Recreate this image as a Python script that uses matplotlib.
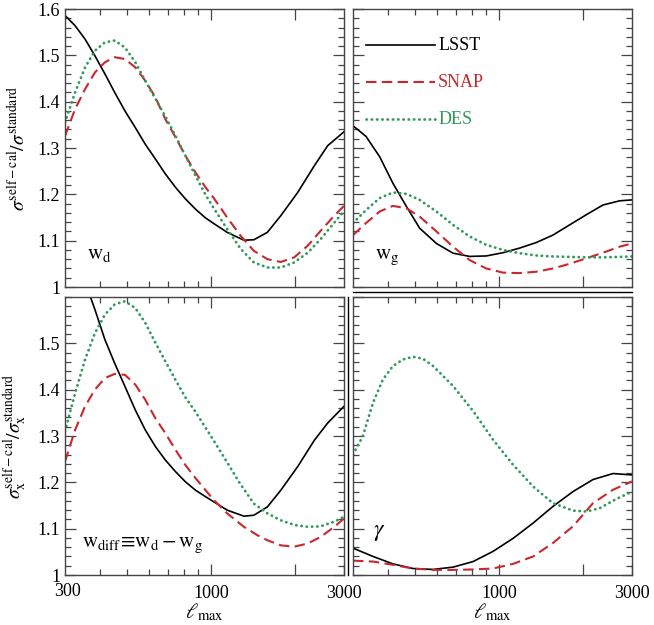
import matplotlib
matplotlib.use("Agg")
import matplotlib.pyplot as plt
from matplotlib.lines import Line2D
from matplotlib.ticker import FixedLocator, FuncFormatter, NullFormatter

plt.rcParams['font.family'] = ['Liberation Serif', 'DejaVu Serif']
plt.rcParams['mathtext.fontset'] = 'stix'

RED = '#c8282d'
GREEN = '#2f9a5b'

# ---- data (ell_max, ratio) ----
# top left: w_d
wd_lsst_l = [300, 326, 354, 384, 417, 452, 492, 536, 582, 633, 687, 747, 811, 881, 957, 1024, 1144, 1313, 1426, 1594, 1781, 2047, 2350, 2622, 3000]
wd_lsst_y = [1.586, 1.564, 1.535, 1.499, 1.460, 1.420, 1.380, 1.344, 1.308, 1.276, 1.244, 1.215, 1.190, 1.168, 1.149, 1.137, 1.118, 1.101, 1.102, 1.118, 1.154, 1.204, 1.262, 1.305, 1.335]
wd_snap_l = [300, 326, 354, 384, 417, 452, 492, 536, 582, 633, 687, 747, 811, 881, 957, 1024, 1144, 1280, 1426, 1594, 1781, 1989, 2223, 2472, 2770, 3000]
wd_snap_y = [1.326, 1.384, 1.427, 1.463, 1.485, 1.496, 1.492, 1.474, 1.445, 1.409, 1.362, 1.323, 1.283, 1.247, 1.215, 1.192, 1.150, 1.110, 1.078, 1.060, 1.054, 1.064, 1.089, 1.121, 1.154, 1.175]
wd_des_l = [300, 326, 354, 384, 417, 452, 492, 536, 582, 633, 687, 747, 811, 881, 957, 1024, 1144, 1280, 1426, 1594, 1781, 1989, 2223, 2472, 2770, 3000]
wd_des_y = [1.355, 1.420, 1.474, 1.510, 1.528, 1.532, 1.517, 1.485, 1.445, 1.406, 1.368, 1.326, 1.283, 1.240, 1.199, 1.170, 1.125, 1.082, 1.053, 1.042, 1.042, 1.053, 1.074, 1.103, 1.139, 1.164]

# top right: w_g
wg_l = [300, 334, 374, 417, 466, 520, 597, 685, 786, 901, 1034, 1187, 1362, 1562, 1792, 2058, 2361, 2709, 3000]
wg_lsst_y = [1.348, 1.325, 1.281, 1.224, 1.174, 1.127, 1.094, 1.073, 1.066, 1.067, 1.074, 1.084, 1.096, 1.112, 1.134, 1.156, 1.177, 1.186, 1.188]
wg_snap_y = [1.112, 1.138, 1.163, 1.175, 1.170, 1.152, 1.120, 1.087, 1.058, 1.040, 1.031, 1.030, 1.033, 1.040, 1.050, 1.062, 1.074, 1.087, 1.094]
wg_des_y = [1.138, 1.166, 1.192, 1.204, 1.201, 1.188, 1.163, 1.134, 1.109, 1.091, 1.080, 1.073, 1.068, 1.066, 1.065, 1.064, 1.064, 1.065, 1.066]

# bottom left: w_diff
wx_lsst_l = [369, 384, 417, 452, 492, 536, 582, 633, 687, 747, 811, 881, 957, 1024, 1144, 1313, 1426, 1594, 1781, 2047, 2350, 2622, 3000]
wx_lsst_y = [1.602, 1.573, 1.508, 1.457, 1.407, 1.356, 1.313, 1.277, 1.248, 1.223, 1.201, 1.183, 1.169, 1.158, 1.140, 1.127, 1.129, 1.147, 1.183, 1.234, 1.291, 1.328, 1.364]
wx_snap_l = [300, 326, 354, 384, 417, 452, 492, 536, 582, 633, 687, 747, 811, 881, 957, 1024, 1144, 1313, 1466, 1594, 1781, 1989, 2223, 2472, 2770, 3000]
wx_snap_y = [1.245, 1.313, 1.364, 1.400, 1.425, 1.434, 1.432, 1.411, 1.378, 1.338, 1.306, 1.270, 1.237, 1.209, 1.183, 1.162, 1.133, 1.104, 1.086, 1.075, 1.064, 1.061, 1.068, 1.082, 1.104, 1.122]
wx_des_l = [300, 326, 354, 384, 417, 452, 492, 536, 582, 633, 687, 747, 811, 881, 957, 1024, 1144, 1270, 1426, 1594, 1781, 1989, 2223, 2472, 2770, 3000]
wx_des_y = [1.310, 1.392, 1.465, 1.522, 1.562, 1.584, 1.591, 1.576, 1.544, 1.501, 1.461, 1.421, 1.383, 1.352, 1.318, 1.290, 1.243, 1.198, 1.154, 1.133, 1.118, 1.108, 1.104, 1.105, 1.115, 1.126]

# bottom right: gamma
ga_l = [300, 354, 417, 492, 581, 685, 808, 953, 1124, 1326, 1562, 1843, 2174, 2565, 3000]
ga_lsst_y = [1.058, 1.040, 1.024, 1.014, 1.012, 1.017, 1.029, 1.051, 1.079, 1.112, 1.148, 1.180, 1.206, 1.219, 1.216]
ga_snap_y = [1.031, 1.029, 1.022, 1.014, 1.011, 1.011, 1.012, 1.014, 1.024, 1.040, 1.069, 1.105, 1.155, 1.184, 1.202]
ga_des_l = [300, 325, 354, 384, 417, 453, 492, 534, 581, 685, 808, 953, 1124, 1326, 1562, 1843, 2058, 2296, 2635, 3000]
ga_des_y = [1.260, 1.299, 1.372, 1.422, 1.451, 1.465, 1.471, 1.467, 1.451, 1.408, 1.354, 1.292, 1.238, 1.191, 1.155, 1.139, 1.137, 1.144, 1.164, 1.180]

panels = [
    (wd_lsst_l, wd_lsst_y, wd_snap_l, wd_snap_y, wd_des_l, wd_des_y),
    (wg_l, wg_lsst_y, wg_l, wg_snap_y, wg_l, wg_des_y),
    (wx_lsst_l, wx_lsst_y, wx_snap_l, wx_snap_y, wx_des_l, wx_des_y),
    (ga_l, ga_lsst_y, ga_l, ga_snap_y, ga_des_l, ga_des_y),
]

solid = dict(color='black', lw=1.2)
dashed = dict(color=RED, lw=1.5, dashes=(5, 2.6))
dotted = dict(color=GREEN, lw=2.0, linestyle=(0, (0.1, 1.8)), dash_capstyle='round')

fig = plt.figure(figsize=(6.54, 6.25), dpi=100)
W, H = 654, 625
boxes = [(65, 9), (353, 9), (65, 297), (353, 297)]
axes = []
for (x0, y0) in boxes:
    ax = fig.add_axes([x0 / W, (H - y0 - 278) / H, 279 / W, 278 / H])
    axes.append(ax)

yfmt = FuncFormatter(lambda v, p: '1' if abs(v - 1) < 1e-6 else '%.1f' % v)

for i, ax in enumerate(axes):
    l1, y1, l2, y2, l3, y3 = panels[i]
    ax.plot(l1, y1, **solid)
    ax.plot(l2, y2, **dashed)
    ax.plot(l3, y3, **dotted)
    ax.set_xscale('log')
    ax.set_xlim(300, 3000)
    ax.set_ylim(1.0, 1.6)
    ax.xaxis.set_major_locator(FixedLocator([1000, 2000]))
    ax.xaxis.set_minor_locator(FixedLocator([400, 500, 600, 700, 800, 900]))
    ax.xaxis.set_minor_formatter(NullFormatter())
    ax.xaxis.set_major_formatter(NullFormatter())
    ax.yaxis.set_major_locator(FixedLocator([1.0, 1.1, 1.2, 1.3, 1.4, 1.5, 1.6]))
    ax.yaxis.set_minor_locator(FixedLocator([1 + 0.02 * k for k in range(31)]))
    ax.tick_params(which='both', direction='in', top=True, right=True, labelsize=13, color='#444444')
    ax.tick_params(which='major', length=8, width=0.9)
    ax.tick_params(which='minor', length=4, width=0.9)
    for s in ax.spines.values():
        s.set_linewidth(1.0)
        s.set_color('#444444')
    if i in (0, 2):
        ax.yaxis.set_major_formatter(yfmt)
    else:
        ax.yaxis.set_major_formatter(NullFormatter())
    if i == 2:
        ax.yaxis.set_major_locator(FixedLocator([1.0, 1.1, 1.2, 1.3, 1.4, 1.5]))
    if i >= 2:
        ax.xaxis.set_major_formatter(FuncFormatter(
            lambda v, p: '%d' % round(v) if round(v) in (1000, 3000) else ''))
        ax.xaxis.set_minor_formatter(NullFormatter())
        ax.xaxis.set_major_locator(FixedLocator([1000, 2000, 3000]))
        ax.tick_params(axis='x', which='major', pad=7)
        ax.set_xlabel(r'$\ell_{\rm max}$', fontsize=15, labelpad=0)

# the left bottom panel also shows 300 at its left end
axes[2].text(0.01, -0.03, '300', transform=axes[2].transAxes, ha='center', va='top', fontsize=13)

axes[0].set_ylabel(r'$\sigma^{\rm self-cal}/\sigma^{\rm standard}$', fontsize=14, labelpad=6)
axes[2].set_ylabel(r'$\sigma_{\rm x}^{\rm self-cal}/\sigma_{\rm x}^{\rm standard}$', fontsize=14, labelpad=6)

axes[0].text(0.08, 0.1, r'$\rm w_{d}$', transform=axes[0].transAxes, fontsize=15)
axes[1].text(0.08, 0.1, r'$\rm w_{g}$', transform=axes[1].transAxes, fontsize=15)
axes[2].text(0.06, 0.1, r'$\rm w_{diff}\!\equiv\! w_{d}-w_{g}$', transform=axes[2].transAxes, fontsize=15)
axes[3].text(0.07, 0.14, r'$\gamma$', transform=axes[3].transAxes, fontsize=17)

# legend in top right panel
leg = axes[1]
for k, (lab, style) in enumerate([('LSST', solid), ('SNAP', dashed), ('DES', dotted)]):
    yy = 0.87 - 0.133 * k
    leg.add_line(Line2D([0.045, 0.295], [yy, yy], transform=leg.transAxes, **style))
    leg.text(0.305, yy, lab, color=style['color'], fontsize=13, va='center', transform=leg.transAxes)

# extra frame lines between panels, as in the reference
fig.add_artist(Line2D([353 / W, 632 / W], [(H - 292) / H] * 2, color='black', lw=1.0))
fig.add_artist(Line2D([348 / W] * 2, [(H - 297) / H, (H - 575) / H], color='black', lw=1.0))

fig.savefig('out.png', dpi=100)
